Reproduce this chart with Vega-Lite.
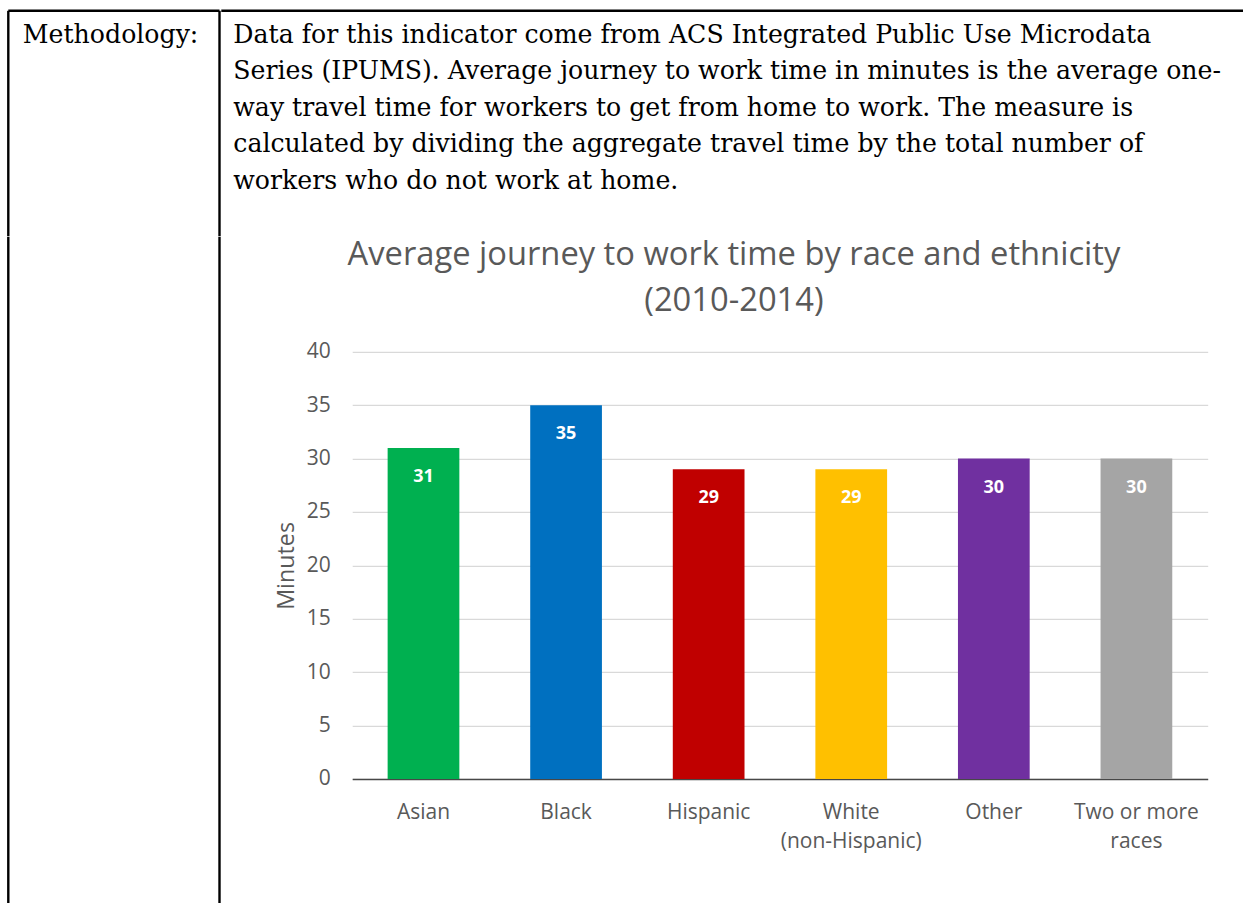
{
  "$schema": "https://vega.github.io/schema/vega-lite/v6.json",
  "background": "white",
  "padding": {"left": 6.3, "top": 8.8, "right": 0, "bottom": 0},
  "config": {
    "view": {"stroke": null},
    "text": {"font": "DejaVu Serif"}
  },
  "datasets": {
    "notes": [
      {"column": "left", "line": 1, "text": "Methodology:"},
      {"column": "right", "line": 1, "text": "Data for this indicator come from ACS Integrated Public Use Microdata"},
      {"column": "right", "line": 2, "text": "Series (IPUMS). Average journey to work time in minutes is the average one-"},
      {"column": "right", "line": 3, "text": "way travel time for workers to get from home to work. The measure is"},
      {"column": "right", "line": 4, "text": "calculated by dividing the aggregate travel time by the total number of"},
      {"column": "right", "line": 5, "text": "workers who do not work at home."}
    ],
    "commute": [
      {"group": "Asian", "minutes": 31},
      {"group": "Black", "minutes": 35},
      {"group": "Hispanic", "minutes": 29},
      {"group": "White (non-Hispanic)", "minutes": 29},
      {"group": "Other", "minutes": 30},
      {"group": "Two or more races", "minutes": 30}
    ]
  },
  "spacing": 0,
  "vconcat": [
    {
      "spacing": 0,
      "hconcat": [
        {
          "width": 211.2,
          "height": 225.3,
          "data": {"name": "notes"},
          "transform": [{"filter": "datum.column === 'left'"}],
          "layer": [
            {
              "data": {"values": [{}]},
              "mark": {"type": "bar", "color": "black", "size": 2.4},
              "encoding": {
                "x": {"datum": 0, "scale": {"domain": [0, 1], "nice": false, "zero": false, "padding": 0}, "axis": null},
                "y": {"datum": 0, "scale": {"domain": [0, 6.1726], "reverse": true, "nice": false, "zero": false, "padding": 0}, "axis": null},
                "y2": {"datum": 6.1726}
              }
            },
            {
              "data": {"values": [{}]},
              "mark": {"type": "bar", "color": "black", "size": 2.4},
              "encoding": {
                "x": {"datum": 1},
                "y": {"datum": 0},
                "y2": {"datum": 6.1726}
              }
            },
            {
              "data": {"values": [{}]},
              "mark": {"type": "bar", "color": "black", "size": 2.4},
              "encoding": {
                "x": {"datum": 0},
                "x2": {"datum": 1},
                "y": {"datum": 0}
              }
            },
            {
              "mark": {"type": "text", "align": "left", "baseline": "alphabetic", "fontSize": 25.2, "color": "black", "dx": 14.5, "dy": -4.6},
              "encoding": {
                "x": {"datum": 0},
                "y": {"field": "line", "type": "quantitative"},
                "text": {"field": "text", "type": "nominal"}
              }
            }
          ]
        },
        {
          "width": 1023,
          "height": 225.3,
          "data": {"name": "notes"},
          "transform": [{"filter": "datum.column === 'right'"}],
          "layer": [
            {
              "data": {"values": [{}]},
              "mark": {"type": "bar", "color": "black", "size": 2.4},
              "encoding": {
                "x": {"datum": 0, "scale": {"domain": [0, 1], "nice": false, "zero": false, "padding": 0}, "axis": null},
                "x2": {"datum": 1},
                "y": {"datum": 0, "scale": {"domain": [0, 6.1726], "reverse": true, "nice": false, "zero": false, "padding": 0}, "axis": null}
              }
            },
            {
              "mark": {"type": "text", "align": "left", "baseline": "alphabetic", "fontSize": 25.2, "color": "black", "dx": 12, "dy": -4.6},
              "encoding": {
                "x": {"datum": 0},
                "y": {"field": "line", "type": "quantitative"},
                "text": {"field": "text", "type": "nominal"}
              }
            }
          ]
        }
      ]
    },
    {
      "columns": 2,
      "align": "none",
      "spacing": 51.9,
      "concat": [
        {
          "width": 211.2,
          "height": 552.5,
          "data": {"values": [{}]},
          "layer": [
            {
              "mark": {"type": "bar", "color": "black", "size": 2.4},
              "encoding": {
                "x": {"datum": 0, "scale": {"domain": [0, 1], "nice": false, "zero": false, "padding": 0}, "axis": null},
                "y": {"datum": 0, "scale": {"domain": [0, 1], "nice": false, "zero": false, "padding": 0}, "axis": null},
                "y2": {"datum": 1.2081}
              }
            },
            {
              "mark": {"type": "bar", "color": "black", "size": 2.4},
              "encoding": {
                "x": {"datum": 1},
                "y": {"datum": 0},
                "y2": {"datum": 1.2081}
              }
            }
          ]
        },
        {
          "width": 855.5,
          "height": 427.2,
          "data": {"name": "commute"},
          "title": {
            "text": ["Average journey to work time by race and ethnicity", "(2010-2014)"],
            "font": "Open Sans",
            "fontSize": 32.7,
            "fontWeight": "normal",
            "color": "#595959",
            "lineHeight": 46.5,
            "anchor": "middle",
            "frame": "bounds",
            "offset": 23,
            "dx": -7
          },
          "encoding": {
            "x": {
              "field": "group",
              "type": "nominal",
              "sort": null,
              "scale": {"paddingInner": 0.497, "paddingOuter": 0.2485},
              "axis": {
                "title": null,
                "labelAngle": 0,
                "labelFont": "Open Sans",
                "labelFontSize": 21,
                "labelColor": "#595959",
                "labelPadding": 23,
                "labelLineHeight": 29,
                "labelExpr": "datum.label == 'White (non-Hispanic)' ? ['White', '(non-Hispanic)'] : datum.label == 'Two or more races' ? ['Two or more', 'races'] : datum.label",
                "ticks": false,
                "tickSize": 0,
                "domainColor": "#474747",
                "domainWidth": 1.6
              }
            },
            "y": {
              "field": "minutes",
              "type": "quantitative",
              "scale": {"domain": [0, 40], "nice": false},
              "axis": {
                "title": "Minutes",
                "titleFont": "Open Sans",
                "titleFontSize": 23.3,
                "titleFontWeight": "normal",
                "titleColor": "#595959",
                "titlePadding": 8,
                "values": [0, 5, 10, 15, 20, 25, 30, 35, 40],
                "labelFont": "Open Sans",
                "labelFontSize": 21,
                "labelColor": "#595959",
                "labelPadding": 22,
                "ticks": false,
                "tickSize": 0,
                "domain": false,
                "gridColor": "#d9d9d9",
                "gridWidth": 1.3
              }
            }
          },
          "layer": [
            {
              "mark": {"type": "bar"},
              "encoding": {
                "color": {
                  "field": "group",
                  "type": "nominal",
                  "scale": {
                    "domain": ["Asian", "Black", "Hispanic", "White (non-Hispanic)", "Other", "Two or more races"],
                    "range": ["#00b050", "#0070c0", "#c00000", "#ffc000", "#7030a0", "#a5a5a5"]
                  },
                  "legend": null
                }
              }
            },
            {
              "mark": {"type": "text", "font": "Open Sans", "fontSize": 18, "fontWeight": "bold", "color": "white", "baseline": "alphabetic", "dy": 34},
              "encoding": {
                "text": {"field": "minutes", "type": "quantitative"}
              }
            }
          ]
        }
      ]
    }
  ]
}
